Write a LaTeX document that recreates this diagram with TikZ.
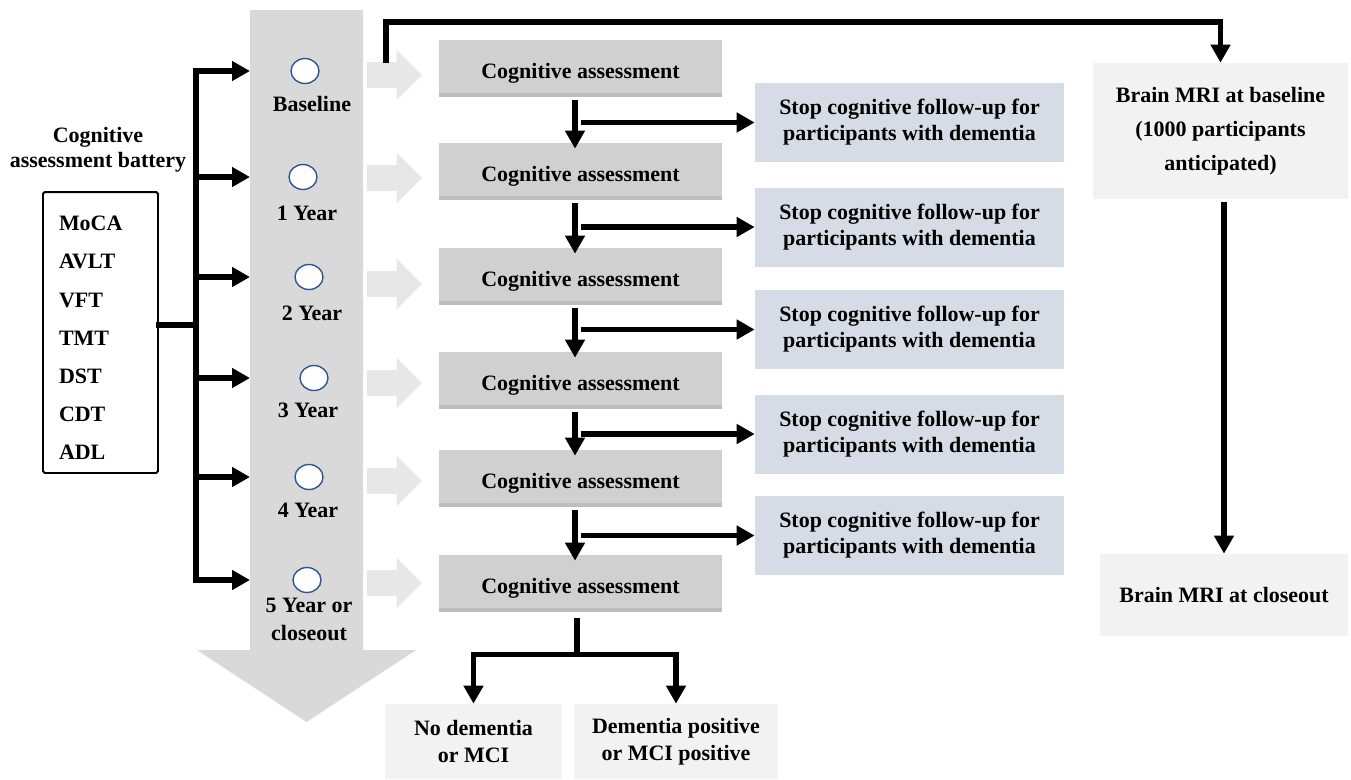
\documentclass[tikz,border=0pt]{standalone}
\usepackage{fontspec}
\setmainfont{Liberation Serif}
\usepackage{tikz}
\usetikzlibrary{arrows.meta}
\usetikzlibrary{shapes.geometric}
\usetikzlibrary{shapes.arrows}

\definecolor{timegray}{HTML}{D9D9D9}
\definecolor{fwdgray}{HTML}{E7E7E7}
\definecolor{cogfill}{HTML}{D0D0D0}
\definecolor{cogshade}{HTML}{BDBDBD}
\definecolor{stopfill}{HTML}{D6DCE5}
\definecolor{mrifill}{HTML}{F2F2F2}
\definecolor{ringblue}{HTML}{2F5597}

\tikzset{
    blk/.style = {line width = 0.11cm, line cap = rect, black},
    arr/.style = {blk, -{Triangle[length = 0.36cm, width = 0.38cm]}},
    ring/.style = {ellipse, draw = ringblue, fill = white, line width = 0.8pt, minimum width = 0.56cm, minimum height = 0.5cm, inner sep = 0pt},
    yearlbl/.style = {align = center, font = \bfseries\fontsize{12.5}{15.9}\selectfont},
    fwd/.style = {single arrow, fill = fwdgray, minimum height = 1.1cm, inner xsep = 0pt, inner ysep = 0.25cm, single arrow head extend = 0.25cm},
    cogbox/.style = {fill = cogfill, minimum width = 5.66cm, minimum height = 1.14cm, inner sep = 0pt, text height = 14pt, text depth = 2.7pt, font = \bfseries\fontsize{12.5}{15}\selectfont,
        path picture = {\fill[cogshade] (path picture bounding box.south west) rectangle ([yshift = 0.08cm]path picture bounding box.south east);}},
    stopbox/.style = {fill = stopfill, minimum width = 6.18cm, minimum height = 1.58cm, align = center, font = \bfseries\fontsize{12.5}{14.7}\selectfont},
    mribox/.style = {fill = mrifill, align = center, inner sep = 0pt, font = \bfseries\fontsize{12.5}{19.5}\selectfont},
    outbox/.style = {fill = mrifill, minimum height = 1.5cm, align = center, font = \bfseries\fontsize{12.5}{15.3}\selectfont}
}

\begin{document}
\begin{tikzpicture}[x = 0.02cm, y = -0.02cm]
        \useasboundingbox (0,0) rectangle (1351,779);

        \fill[timegray] (250,10) -- (363,10) -- (363,650) -- (416,650) -- (306.5,722) -- (197,650) -- (250,650) -- cycle;
        \coordinate (shaft) at (250,0);

        \node[align = center, font = \bfseries\fontsize{12.5}{14.2}\selectfont] (battery) at (98,150) {Cognitive\\assessment battery};

        \node[draw, line width = 1.1pt, rounded corners = 1pt, text width = 1.66cm, inner xsep = 0.32cm, minimum height = 5.62cm, align = left, font = \bfseries\fontsize{12.5}{21.7}\selectfont] (tests) at (100.5,332.5){
            \rule{0pt}{14.5pt}MoCA\\AVLT\\VFT\\TMT\\DST\\CDT\\ADL
        };

        \node[ring] (circA) at (305,71){};
        \node[ring] (circB) at (303,177){};
        \node[ring] (circC) at (309,277){};
        \node[ring] (circD) at (314,378){};
        \node[ring] (circE) at (309,477){};
        \node[ring] (circF) at (307,580){};

        \node[yearlbl] (lblA) at (312,104){Baseline};
        \node[yearlbl] (lblB) at (307,213){1 Year};
        \node[yearlbl] (lblC) at (312,313){2 Year};
        \node[yearlbl] (lblD) at (308,410){3 Year};
        \node[yearlbl] (lblE) at (308,510){4 Year};
        \node[yearlbl] (lblF) at (309,619){5 Year or\\closeout};

        \node[fwd] (fA) at (388,75){};
        \node[fwd] (fB) at (388,178){};
        \node[fwd] (fC) at (388,284){};
        \node[fwd] (fD) at (388,383){};
        \node[fwd] (fE) at (388,481){};
        \node[fwd] (fF) at (388,583){};

        \node[cogbox] (cgA) at (580.5,68.5){Cognitive assessment};
        \node[cogbox] (cgB) at (580.5,171.5){Cognitive assessment};
        \node[cogbox] (cgC) at (580.5,276.5){Cognitive assessment};
        \node[cogbox] (cgD) at (580.5,380.5){Cognitive assessment};
        \node[cogbox] (cgE) at (580.5,478.5){Cognitive assessment};
        \node[cogbox] (cgF) at (580.5,583.5){Cognitive assessment};

        \node[stopbox] (stopA) at (909.5,122.5){Stop cognitive follow-up for\\participants with dementia};
        \node[stopbox] (stopB) at (909.5,227){Stop cognitive follow-up for\\participants with dementia};
        \node[stopbox] (stopC) at (909.5,329.5){Stop cognitive follow-up for\\participants with dementia};
        \node[stopbox] (stopD) at (909.5,434){Stop cognitive follow-up for\\participants with dementia};
        \node[stopbox] (stopE) at (909.5,535.5){Stop cognitive follow-up for\\participants with dementia};

        \node[mribox, minimum width = 5.1cm, minimum height = 2.72cm] (mriA) at (1220.5,131){Brain MRI at baseline\\(1000 participants\\anticipated)};
        \node[mribox, minimum width = 4.96cm, minimum height = 1.64cm] (mriB) at (1224,595){Brain MRI at closeout};

        \node[outbox, minimum width = 3.54cm] (noDem) at (473.5,741.5){No dementia\\or MCI};
        \node[outbox, minimum width = 4.08cm] (demPos) at (676,741.5){Dementia positive\\or MCI positive};

        \coordinate (trunk) at (196,325);
        \draw[blk] (tests.east |- trunk) -- (trunk);
        \draw[arr] (trunk |- circF) -- (trunk |- circA) -- (shaft |- circA);
        \draw[arr] (trunk |- circB) -- (shaft |- circB);
        \draw[arr] (trunk |- circC) -- (shaft |- circC);
        \draw[arr] (trunk |- circD) -- (shaft |- circD);
        \draw[arr] (trunk |- circE) -- (shaft |- circE);
        \draw[arr] (trunk |- circF) -- (shaft |- circF);

        \coordinate (mrisrc) at (386,60);
        \draw[arr] (mrisrc) -- ++(0,-38) -| (mriA);
        \draw[arr] (mriA.south -| mriB.north) ++(0,5) -- (mriB.north);

        \draw[arr] ([xshift = -0.11cm, yshift = -0.1cm]cgA.south) -- ([xshift = -0.11cm, yshift = -0.12cm]cgB.north);
        \draw[arr] ([xshift = -0.11cm, yshift = -0.1cm]cgB.south) -- ([xshift = -0.11cm, yshift = -0.12cm]cgC.north);
        \draw[arr] ([xshift = -0.11cm, yshift = -0.1cm]cgC.south) -- ([xshift = -0.11cm, yshift = -0.12cm]cgD.north);
        \draw[arr] ([xshift = -0.11cm, yshift = -0.1cm]cgD.south) -- ([xshift = -0.11cm, yshift = -0.12cm]cgE.north);
        \draw[arr] ([xshift = -0.11cm, yshift = -0.1cm]cgE.south) -- ([xshift = -0.11cm, yshift = -0.12cm]cgF.north);

        \draw[arr] (cgA.south |- stopA) ++(3,0) -- (stopA);
        \draw[arr] (cgB.south |- stopB) ++(3,0) -- (stopB);
        \draw[arr] (cgC.south |- stopC) ++(3,0) -- (stopC);
        \draw[arr] (cgD.south |- stopD) ++(3,0) -- (stopD);
        \draw[arr] (cgE.south |- stopE) ++(3,0) -- (stopE);

        \draw[blk] ([xshift = -0.07cm, yshift = -0.16cm]cgF.south) -- ++(0,34) coordinate (split);
        \draw[arr] (split) -| (noDem);
        \draw[arr] (split) -| (demPos);
\end{tikzpicture}
\end{document}
